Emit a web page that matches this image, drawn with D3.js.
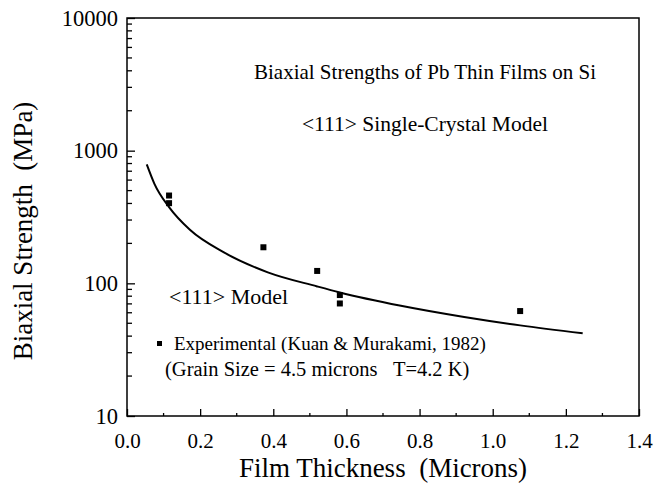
<!DOCTYPE html>
<html>
<head>
<meta charset="utf-8">
<script src="https://cdn.jsdelivr.net/npm/d3@7"></script>
<style>
  body { margin: 0; background: #fff; }
  text { font-family: "Liberation Serif", "Times New Roman", "DejaVu Serif", serif; fill: #000; }
</style>
</head>
<body>
<svg id="chart" width="663" height="491"></svg>
<script>
// model curve
const modelX = [0.054, 0.075, 0.115, 0.172, 0.265, 0.385, 0.52, 0.582, 0.749, 0.922, 1.075, 1.246];
const modelY = [787, 562, 375, 253, 171, 121, 94.8, 85.4, 67.8, 55.8, 48.2, 42.0];

// experimental points
const expX = [0.115, 0.115, 0.373, 0.52, 0.582, 0.582, 1.075];
const expY = [459, 402, 187, 124, 81.6, 70.5, 61.8];

const xTicks = [0.0, 0.2, 0.4, 0.6, 0.8, 1.0, 1.2, 1.4];
const yTicks = [10, 100, 1000, 10000];

// set the dimensions and margins of the graph
var margin = { top: 18, right: 24, bottom: 75, left: 127 },
  width = 663 - margin.left - margin.right,
  height = 491 - margin.top - margin.bottom;

var svg = d3
  .select("#chart")
  .append("g")
  .attr("transform", "translate(" + margin.left + "," + margin.top + ")");

var x = d3.scaleLinear().domain([0, 1.4]).range([0, width]);
var y = d3.scaleLog().domain([10, 10000]).range([height, 0]);

// frame
svg
  .append("rect")
  .attr("width", width)
  .attr("height", height)
  .attr("fill", "none")
  .attr("stroke", "#000")
  .attr("stroke-width", 1.5);

// X axis, ticks pointing inside
var minorX = d3.range(1, 14, 2).map((i) => i / 10);
svg
  .append("g")
  .selectAll("line.minor")
  .data(minorX)
  .enter()
  .append("line")
  .attr("x1", (d) => x(d))
  .attr("x2", (d) => x(d))
  .attr("y1", height)
  .attr("y2", height - 3)
  .attr("stroke", "#000")
  .attr("stroke-width", 1.3);

svg
  .append("g")
  .attr("transform", "translate(0," + height + ")")
  .call(
    d3
      .axisBottom(x)
      .tickValues(xTicks)
      .tickSizeInner(-7)
      .tickSizeOuter(0)
      .tickPadding(17)
      .tickFormat(d3.format(".1f"))
  )
  .call((g) => g.select(".domain").remove())
  .call((g) => g.selectAll("line").attr("stroke-width", 1.3))
  .selectAll("text")
  .style("font-size", "21px");

// Y axis with minor ticks
var minorY = [];
[10, 100, 1000].forEach(function (dec) {
  for (var k = 2; k <= 9; k++) minorY.push(dec * k);
});
svg
  .append("g")
  .selectAll("line")
  .data(minorY)
  .enter()
  .append("line")
  .attr("x1", 0)
  .attr("x2", 5)
  .attr("y1", (d) => y(d))
  .attr("y2", (d) => y(d))
  .attr("stroke", "#000")
  .attr("stroke-width", 1.3);

svg
  .append("g")
  .call(
    d3
      .axisLeft(y)
      .tickValues(yTicks)
      .tickSizeInner(-8)
      .tickSizeOuter(0)
      .tickPadding(9)
      .tickFormat(d3.format("d"))
  )
  .call((g) => g.select(".domain").remove())
  .call((g) => g.selectAll("line").attr("stroke-width", 1.3))
  .selectAll("text")
  .style("font-size", "22.5px");

// model line
svg
  .append("path")
  .datum(d3.zip(modelX, modelY))
  .attr("fill", "none")
  .attr("stroke", "#000")
  .attr("stroke-width", 2)
  .attr(
    "d",
    d3
      .line()
      .curve(d3.curveMonotoneX)
      .x((d) => x(d[0]))
      .y((d) => y(d[1]))
  );

// experimental squares
svg
  .selectAll("rect.pt")
  .data(d3.zip(expX, expY))
  .enter()
  .append("rect")
  .attr("class", "pt")
  .attr("x", (d) => x(d[0]) - 3)
  .attr("y", (d) => y(d[1]) - 3)
  .attr("width", 6)
  .attr("height", 6)
  .attr("fill", "#000");

// titles inside plot
svg
  .append("text")
  .attr("x", 298)
  .attr("y", 61)
  .attr("text-anchor", "middle")
  .style("font-size", "21px")
  .text("Biaxial Strengths of Pb Thin Films on Si");
svg
  .append("text")
  .attr("x", 298)
  .attr("y", 113)
  .attr("text-anchor", "middle")
  .style("font-size", "21.5px")
  .text("<111> Single-Crystal Model");

svg
  .append("text")
  .attr("x", 42)
  .attr("y", 286)
  .style("font-size", "22px")
  .text("<111> Model");

// legend
svg
  .append("rect")
  .attr("x", 30)
  .attr("y", 323)
  .attr("width", 5)
  .attr("height", 5)
  .attr("fill", "#000");
svg
  .append("text")
  .attr("x", 47)
  .attr("y", 332)
  .style("font-size", "19px")
  .text("Experimental (Kuan & Murakami, 1982)");
svg
  .append("text")
  .attr("x", 38)
  .attr("y", 358)
  .style("font-size", "20.5px")
  .text("(Grain Size = 4.5 microns\u00A0\u00A0\u00A0T=4.2 K)");

// axis labels
d3.select("#chart")
  .append("text")
  .attr("x", 383)
  .attr("y", 477)
  .attr("text-anchor", "middle")
  .style("font-size", "27px")
  .text("Film Thickness\u00A0\u00A0(Microns)");

d3.select("#chart")
  .append("text")
  .attr("transform", "translate(32,231)rotate(-90)")
  .attr("text-anchor", "middle")
  .style("font-size", "27px")
  .text("Biaxial Strength\u00A0\u00A0(MPa)");
</script>
</body>
</html>
